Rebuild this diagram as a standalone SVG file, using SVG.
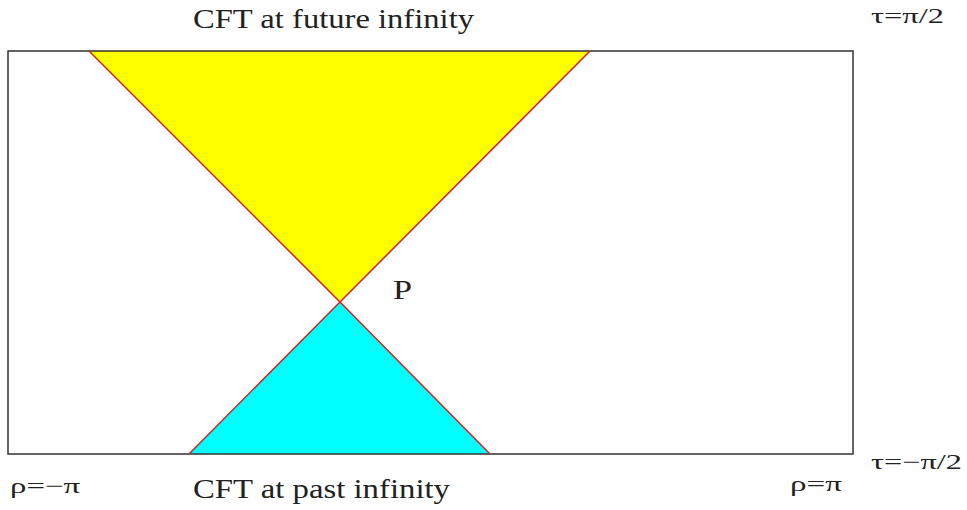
<svg xmlns="http://www.w3.org/2000/svg" width="967" height="510" viewBox="0 0 967 510">
<style>
text{font-family:"Liberation Serif","DejaVu Serif",serif;fill:#222;}
.big{font-size:28px;}
.lab{font-size:21px;}
.edge{stroke:#d42020;stroke-width:1.5;fill:none;}
</style>
<rect width="967" height="510" fill="#fff"/>
<g id="future-cone"><polygon points="89,51 590,51 340,302" fill="#ffff00"/></g>
<g id="past-cone"><polygon points="340,302 189,454 490,454" fill="#00ffff"/></g>
<g id="boundary"><rect x="8" y="51" width="845" height="403" fill="none" stroke="#333" stroke-width="1.5"/></g>
<g id="connectors">
<line class="edge" x1="89" y1="51" x2="340" y2="302"/>
<line class="edge" x1="590" y1="51" x2="340" y2="302"/>
<line class="edge" x1="340" y1="302" x2="189" y2="454"/>
<line class="edge" x1="340" y1="302" x2="490" y2="454"/>
</g>
<g id="labels">
<text class="big" x="193" y="28" textLength="281" lengthAdjust="spacingAndGlyphs">CFT at future infinity</text>
<text class="big" x="193" y="498" textLength="257" lengthAdjust="spacingAndGlyphs">CFT at past infinity</text>
<text class="big" x="393" y="299" textLength="19" lengthAdjust="spacingAndGlyphs">P</text>
<text class="lab" x="871" y="23" textLength="73" lengthAdjust="spacingAndGlyphs">τ=π/2</text>
<text class="lab" x="871" y="469" textLength="91" lengthAdjust="spacingAndGlyphs">τ=−π/2</text>
<text class="lab" x="10" y="493" textLength="70" lengthAdjust="spacingAndGlyphs">ρ=−π</text>
<text class="lab" x="790" y="491" textLength="52" lengthAdjust="spacingAndGlyphs">ρ=π</text>
</g>
</svg>
